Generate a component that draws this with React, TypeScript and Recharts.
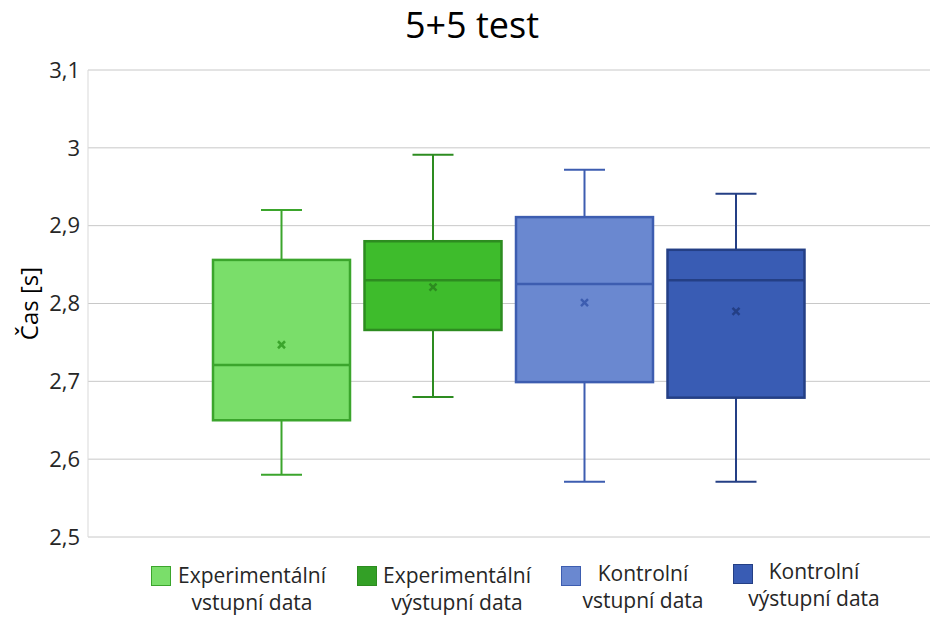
import React from "react";
import { ComposedChart, Bar, XAxis, YAxis, CartesianGrid, Label } from "recharts";

const chartTitle = "5+5 test";
const yAxisTitle = "Čas [s]";
const categories = ["5+5 test"];
const seriesNames = [
  ["Experimentální", "vstupní data"],
  ["Experimentální", "výstupní data"],
  ["Kontrolní", "vstupní data"],
  ["Kontrolní", "výstupní data"],
];
const minValues = [2.58, 2.68, 2.571, 2.571];
const q1Values = [2.65, 2.766, 2.699, 2.679];
const medianValues = [2.721, 2.83, 2.825, 2.83];
const q3Values = [2.856, 2.88, 2.911, 2.869];
const maxValues = [2.92, 2.991, 2.972, 2.941];
const meanValues = [2.747, 2.821, 2.801, 2.79];
const yTicks = [2.5, 2.6, 2.7, 2.8, 2.9, 3.0, 3.1];

const fills = ["#7ADE6A", "#3EBC2C", "#6A88D0", "#395CB4"];
const strokes = ["#3BA52C", "#2D8C20", "#3D5DB0", "#243F85"];
const legendFills = ["#7ADE6A", "#33A026", "#6A88D0", "#395CB4"];

const FONT = "'Open Sans', 'DejaVu Sans', sans-serif";

const keys = seriesNames.map((_, i) => `s${i}`);
const data = categories.map((name) => {
  const row: any = { name };
  keys.forEach((k, i) => {
    row[k] = [minValues[i], maxValues[i]];
  });
  return row;
});

const makeShape = (si: number) => (props: any) => {
  const { x, y, width, height } = props;
  if (x == null || y == null) return null;
  const top = Math.min(y, y + height);
  const h = Math.abs(height);
  const vmax = maxValues[si];
  const vmin = minValues[si];
  const py = (v: number) => top + ((vmax - v) / (vmax - vmin)) * h;
  const cx = x + width / 2;
  const stroke = strokes[si];
  const capHalf = 20.5;
  const yMax = py(vmax);
  const yMin = py(vmin);
  const yQ3 = py(q3Values[si]);
  const yQ1 = py(q1Values[si]);
  const yMed = py(medianValues[si]);
  const yMean = py(meanValues[si]);
  const m = 3.5;
  return (
    <g>
      <line x1={cx} y1={yMax} x2={cx} y2={yQ3} stroke={stroke} strokeWidth={2} />
      <line x1={cx} y1={yQ1} x2={cx} y2={yMin} stroke={stroke} strokeWidth={2} />
      <line x1={cx - capHalf} y1={yMax} x2={cx + capHalf} y2={yMax} stroke={stroke} strokeWidth={2} />
      <line x1={cx - capHalf} y1={yMin} x2={cx + capHalf} y2={yMin} stroke={stroke} strokeWidth={2} />
      <rect x={x} y={yQ3} width={width} height={yQ1 - yQ3} fill={fills[si]} stroke={stroke} strokeWidth={2.5} />
      <line x1={x} y1={yMed} x2={x + width} y2={yMed} stroke={stroke} strokeWidth={2.5} />
      <line x1={cx - m} y1={yMean - m} x2={cx + m} y2={yMean + m} stroke={stroke} strokeWidth={2.5} />
      <line x1={cx - m} y1={yMean + m} x2={cx + m} y2={yMean - m} stroke={stroke} strokeWidth={2.5} />
    </g>
  );
};

const fmt = (v: number) => String(Number(v.toFixed(1))).replace(".", ",");

const legendSwatchLeft = [151, 357, 561, 733];
const legendSwatchTop = [566, 566, 566, 564];
const legendTextCenter = [252, 457, 643, 814];
const legendTextTop = [562, 562, 560, 558];

const YLabel = (props: any) => {
  const vb = props.viewBox || {};
  const cy = (vb.y ?? 70) + (vb.height ?? 467) / 2;
  return (
    <text
      x={28}
      y={cy}
      transform={`rotate(-90, 28, ${cy})`}
      textAnchor="middle"
      dominantBaseline="central"
      fontSize={24}
      fontFamily={FONT}
      fill="#000"
    >
      {yAxisTitle}
    </text>
  );
};

export default function App() {
  return (
    <div style={{ position: "relative", width: 930, height: 621, background: "#fff", fontFamily: FONT }}>
      <style>{"body{margin:0;background:#fff}"}</style>
      <div
        style={{
          position: "absolute",
          left: 272,
          width: 400,
          top: 0,
          textAlign: "center",
          fontSize: 36,
          lineHeight: "49px",
          color: "#000",
        }}
      >
        {chartTitle}
      </div>
      <ComposedChart
        width={930}
        height={621}
        data={data}
        margin={{ top: 70, right: 0, bottom: 84, left: 0 }}
        barGap={14.5}
      >
        <CartesianGrid horizontal vertical={false} stroke="#C8C8C8" strokeWidth={1} />
        <XAxis dataKey="name" hide />
        <YAxis
          width={88}
          domain={[2.5, 3.1]}
          ticks={yTicks}
          interval={0}
          tickFormatter={fmt}
          tickLine={false}
          tickSize={0}
          tickMargin={8}
          axisLine={{ stroke: "#D9D9D9" }}
          tick={{ fontSize: 22, fill: "#262626", fontFamily: FONT }}
          allowDataOverflow
        >
          <Label content={<YLabel />} />
        </YAxis>
        {keys.map((k, i) => (
          <Bar key={k} dataKey={k} barSize={137} shape={makeShape(i)} isAnimationActive={false} />
        ))}
      </ComposedChart>
      {seriesNames.map((lines, i) => (
        <React.Fragment key={i}>
          <div
            style={{
              position: "absolute",
              left: legendSwatchLeft[i],
              top: legendSwatchTop[i],
              width: 18,
              height: 18,
              background: legendFills[i],
              border: `1px solid ${strokes[i]}`,
            }}
          />
          <div
            style={{
              position: "absolute",
              left: legendTextCenter[i] - 100,
              width: 200,
              top: legendTextTop[i],
              textAlign: "center",
              fontSize: 21,
              lineHeight: "27px",
              color: "#262626",
              whiteSpace: "nowrap",
            }}
          >
            <div>{lines[0]}</div>
            <div>{lines[1]}</div>
          </div>
        </React.Fragment>
      ))}
    </div>
  );
}
